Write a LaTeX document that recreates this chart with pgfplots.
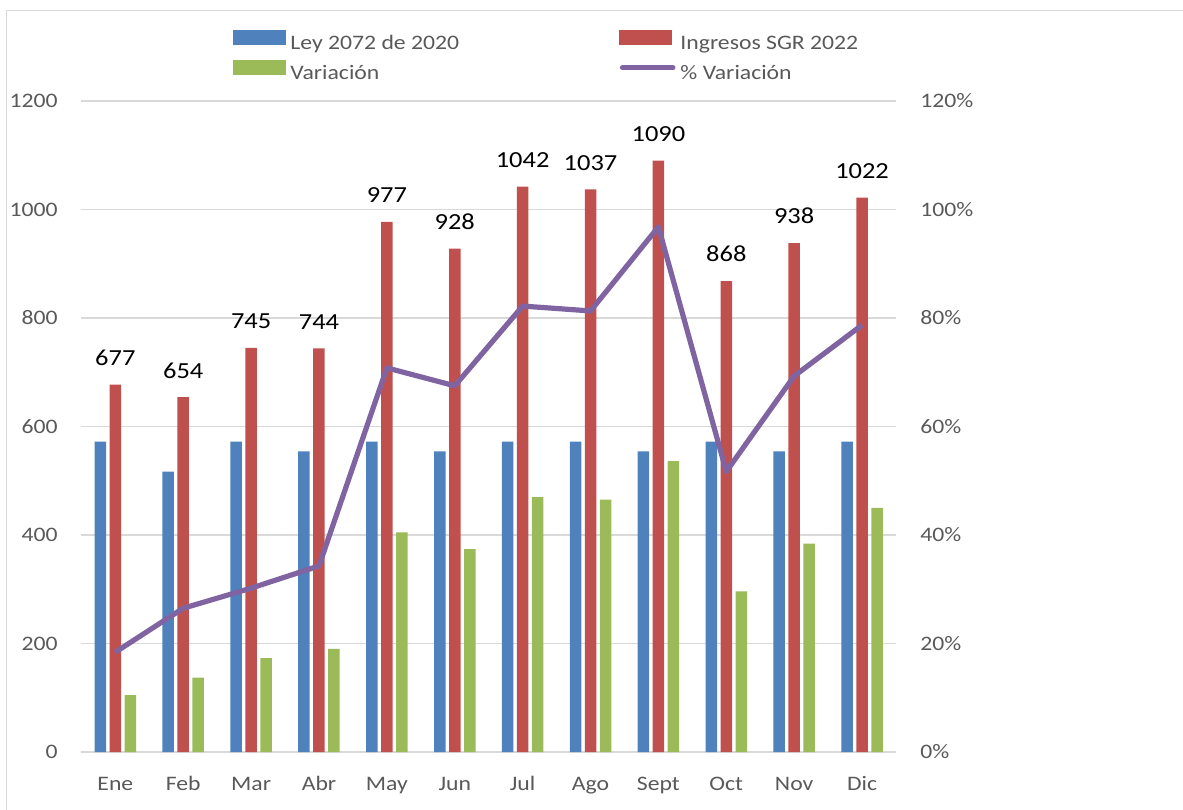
\documentclass[border=0pt]{standalone}
\usepackage{pgfplots}
\pgfplotsset{compat=1.18}
\usepackage{fontspec}
\setmainfont{Carlito}[FakeStretch=1.15]
\definecolor{cblue}{HTML}{4F81BD}
\definecolor{cred}{HTML}{C0504D}
\definecolor{cgreen}{HTML}{9BBB59}
\definecolor{cpurple}{HTML}{8064A2}
\definecolor{cgrid}{HTML}{D9D9D9}
\definecolor{ctext}{HTML}{595959}
\newcommand{\axfont}{\fontsize{10.3}{12}\selectfont}
\newcommand{\lblfont}{\fontsize{11.5}{13}\selectfont}
\begin{document}
\begin{tikzpicture}
\path[use as bounding box] (0,0) rectangle (591.5pt,404.5pt);
\draw[cgrid, line width=0.7pt] (3.35pt,-20pt) -- (3.35pt,399.15pt) -- (620pt,399.15pt);
\begin{axis}[
  at={(40.7pt,28.5pt)}, anchor=south west,
  scale only axis, width=407.3pt, height=325.5pt,
  xmin=-0.5, xmax=11.5, ymin=0, ymax=1200,
  ytick={0,200,...,1200},
  xtick={0,...,11},
  xticklabels={Ene,Feb,Mar,Abr,May,Jun,Jul,Ago,Sept,Oct,Nov,Dic},
  ymajorgrids, grid style={cgrid, line width=0.65pt},
  axis line style={draw=none}, major tick length=0pt,
  tick label style={font=\axfont, text=ctext},
  yticklabel style={anchor=east, inner sep=0pt, xshift=-11.7pt},
  xticklabel style={anchor=base, inner sep=0pt, yshift=-19.3pt},
  /pgf/number format/1000 sep={},
  /pgf/number format/assume math mode=true,
  clip=false,
]
\addplot[ybar, bar width=5.75pt, bar shift=-7.5pt, fill=cblue, draw=none] coordinates {
 (0,572) (1,517) (2,572) (3,554) (4,572) (5,554) (6,572) (7,572) (8,554) (9,572) (10,554) (11,572)};
\addplot[ybar, bar width=5.75pt, bar shift=0pt, fill=cred, draw=none,
  nodes near coords, nodes near coords style={font=\lblfont, text=black, anchor=south, inner sep=0pt, yshift=9.3pt}] coordinates {
 (0,677) (1,654) (2,745) (3,744) (4,977) (5,928) (6,1042) (7,1037) (8,1090) (9,868) (10,938) (11,1022)};
\addplot[ybar, bar width=5.75pt, bar shift=7.5pt, fill=cgreen, draw=none] coordinates {
 (0,105) (1,137) (2,173) (3,190) (4,405) (5,374) (6,470) (7,465) (8,536) (9,296) (10,384) (11,450)};
\end{axis}
\begin{axis}[
  at={(40.7pt,28.5pt)}, anchor=south west,
  scale only axis, width=407.3pt, height=325.5pt,
  xmin=-0.5, xmax=11.5, ymin=0, ymax=120,
  ytick={0,20,...,120},
  axis y line*=right, hide x axis,
  axis line style={draw=none}, major tick length=0pt,
  tick label style={font=\axfont, text=ctext},
  yticklabel={\pgfmathprintnumber{\tick}\%},
  yticklabel style={anchor=west, inner sep=0pt, xshift=12pt},
  /pgf/number format/assume math mode=true,
  clip=false,
  legend columns=2,
  legend cell align=left,
  legend style={at={(0.1857,1.1085)}, anchor=north west, draw=none, fill=none,
    inner sep=0pt, outer sep=0pt, font=\axfont, text=ctext, row sep=3.25pt,
    nodes={inner sep=0pt, text height=7.2pt, text depth=2.2pt},
    /tikz/every odd column/.append style={column sep=2.5pt},
    /tikz/every even column/.append style={column sep=14.5pt}},
]
\addlegendimage{legend image code/.code={\fill[cblue] (0pt,-0.15pt) rectangle (26pt,6.85pt);}}
\addlegendentry{\makebox[150pt][l]{Ley 2072 de 2020}}
\addlegendimage{legend image code/.code={\fill[cred] (0pt,-0.15pt) rectangle (26pt,6.85pt);}}
\addlegendentry{\makebox[150pt][l]{Ingresos SGR 2022}}
\addlegendimage{legend image code/.code={\fill[cgreen] (0pt,-0.15pt) rectangle (26pt,6.85pt);}}
\addlegendentry{\makebox[150pt][l]{Variación}}
\addplot[cpurple, line width=2.6pt, line join=round, mark=none,
  legend image code/.code={\draw[cpurple, line width=2.6pt, line cap=round] (1.3pt,3.35pt) -- (26.5pt,3.35pt);}] coordinates {
 (0,18.4) (1,26.5) (2,30.2) (3,34.3) (4,70.8) (5,67.5) (6,82.2) (7,81.3) (8,96.8) (9,51.7) (10,69.3) (11,78.7)};
\addlegendentry{\makebox[150pt][l]{\% Variación}}
\end{axis}
\end{tikzpicture}
\end{document}
